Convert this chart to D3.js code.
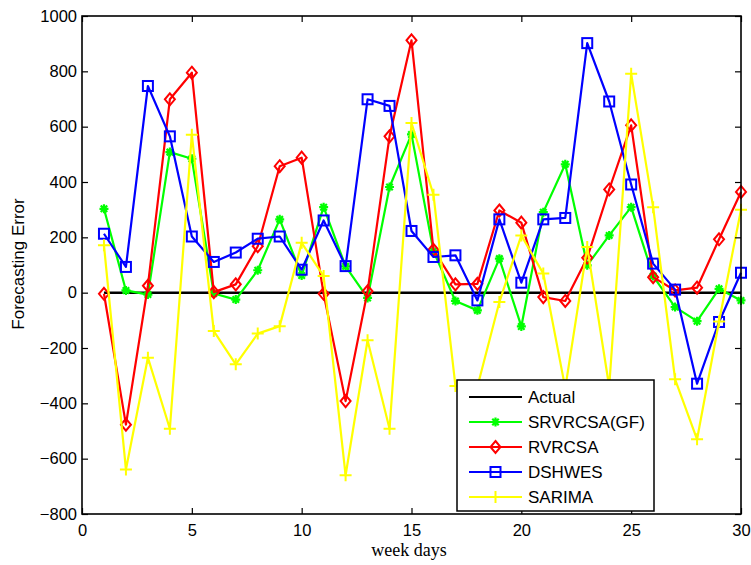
<!DOCTYPE html>
<html>
<head>
<meta charset="utf-8">
<script src="https://cdn.jsdelivr.net/npm/d3@7/dist/d3.min.js"></script>
<style>
  html, body { margin: 0; padding: 0; background: #fff; }
  svg { display: block; }
  text { font-family: "Liberation Sans", Arial, sans-serif; }
</style>
</head>
<body>
<svg id="chart" width="751" height="565"></svg>
<script>
// Week days on the x axis
const days = d3.range(1, 31);

// Forecasting error of each method per day
const actual = days.map(() => 0);
const srvrcsaGF = [303, 8, -7, 508, 484, -3, -25, 81, 265, 62, 309, 95, -19, 382, 572,
                   150, -30, -64, 123, -122, 291, 464, 99, 207, 309, 60, -52, -103, 14, -28];
const rvrcsa = [-4, -477, 25, 699, 795, 2, 30, 168, 457, 488, -4, -392, 5, 565, 912,
                155, 30, 32, 297, 253, -16, -30, 126, 373, 605, 56, 8, 18, 193, 364];
const dshwes = [213, 93, 747, 565, 203, 111, 145, 195, 203, 83, 261, 96, 699, 675, 223,
                129, 135, -28, 265, 36, 265, 270, 902, 691, 391, 105, 11, -329, -106, 72];
const sarima = [171, -639, -235, -492, 571, -139, -259, -148, -121, 180, 60, -660, -172, -492, 613,
                354, -337, -340, -34, 207, 69, -345, 165, -340, 791, 309, -313, -530, -104, 300];

// Axis ticks
const xTicks = [0, 5, 10, 15, 20, 25, 30];
const yTicks = [-800, -600, -400, -200, 0, 200, 400, 600, 800, 1000];

const seriesNames = ["Actual", "SRVRCSA(GF)", "RVRCSA", "DSHWES", "SARIMA"];
const seriesValues = [actual, srvrcsaGF, rvrcsa, dshwes, sarima];
const seriesColors = ["#000000", "#00ff00", "#ff0000", "#0000ff", "#ffff00"];
const seriesMarkers = ["none", "asterisk", "diamond", "square", "plus"];

const svg = d3.select("#chart");
const plotLeft = 82, plotRight = 741, plotTop = 16, plotBottom = 514;

const x = d3.scaleLinear().domain([0, 30]).range([plotLeft, plotRight]);
const y = d3.scaleLinear().domain([-800, 1000]).range([plotBottom, plotTop]);

// Marker drawing
function drawMarker(g, type, color) {
  if (type === "asterisk") {
    const r = 4.5, d = r * 0.72;
    g.append("path")
      .attr("d", `M${-r},0H${r}M0,${-r}V${r}M${-d},${-d}L${d},${d}M${-d},${d}L${d},${-d}`)
      .attr("stroke", color).attr("stroke-width", 2.2).attr("fill", "none");
  } else if (type === "diamond") {
    g.append("path")
      .attr("d", "M0,-6L5,0L0,6L-5,0Z")
      .attr("stroke", color).attr("stroke-width", 2).attr("fill", "none");
  } else if (type === "square") {
    g.append("rect")
      .attr("x", -5).attr("y", -5).attr("width", 10).attr("height", 10)
      .attr("stroke", color).attr("stroke-width", 2).attr("fill", "none");
  } else if (type === "plus") {
    g.append("path")
      .attr("d", "M-6,0H6M0,-6V6")
      .attr("stroke", color).attr("stroke-width", 2).attr("fill", "none");
  }
}

// Series lines and markers
const line = d3.line().x((d, i) => x(days[i])).y(d => y(d));
seriesValues.forEach((vals, si) => {
  const g = svg.append("g");
  g.append("path")
    .datum(vals)
    .attr("d", line)
    .attr("fill", "none")
    .attr("stroke", seriesColors[si])
    .attr("stroke-width", si === 0 ? 2.5 : 2.2)
    .attr("stroke-linejoin", "round");
  if (seriesMarkers[si] !== "none") {
    vals.forEach((v, i) => {
      const mg = g.append("g").attr("transform", `translate(${x(days[i])},${y(v)})`);
      drawMarker(mg, seriesMarkers[si], seriesColors[si]);
    });
  }
});

// Axes with inward ticks on all sides
const fontSize = "16.5px";
const fmt = d3.format("d");
const gx = svg.append("g").attr("transform", `translate(0,${plotBottom})`)
  .call(d3.axisBottom(x).tickValues(xTicks).tickFormat(fmt)
    .tickSizeInner(-6).tickSizeOuter(0).tickPadding(10));
const gy = svg.append("g").attr("transform", `translate(${plotLeft},0)`)
  .call(d3.axisLeft(y).tickValues(yTicks).tickFormat(fmt)
    .tickSizeInner(-6).tickSizeOuter(0).tickPadding(5));
const gt = svg.append("g").attr("transform", `translate(0,${plotTop})`)
  .call(d3.axisTop(x).tickValues(xTicks).tickSizeInner(-6).tickSizeOuter(0).tickFormat(""));
const gr = svg.append("g").attr("transform", `translate(${plotRight},0)`)
  .call(d3.axisRight(y).tickValues(yTicks).tickSizeInner(-6).tickSizeOuter(0).tickFormat(""));

[gx, gy, gt, gr].forEach(g => {
  g.select(".domain").remove();
  g.selectAll(".tick line").attr("stroke", "#000").attr("stroke-width", 1.2);
  g.selectAll(".tick text")
    .attr("fill", "#000")
    .style("font-family", "'Liberation Sans', Arial, sans-serif")
    .style("font-size", fontSize);
});

// Plot frame
svg.append("rect")
  .attr("x", plotLeft).attr("y", plotTop)
  .attr("width", plotRight - plotLeft).attr("height", plotBottom - plotTop)
  .attr("fill", "none").attr("stroke", "#000").attr("stroke-width", 1.6);

// Axis titles
svg.append("text")
  .attr("transform", `translate(24,264) rotate(-90)`)
  .attr("text-anchor", "middle")
  .style("font-size", "17px")
  .text("Forecasting Error");

svg.append("text")
  .attr("x", 409).attr("y", 556)
  .attr("text-anchor", "middle")
  .style("font-family", "'Liberation Serif', 'Times New Roman', serif")
  .style("font-size", "18px")
  .text("week days");

// Legend
const legend = svg.append("g");
legend.append("rect")
  .attr("x", 457).attr("y", 380).attr("width", 197).attr("height", 131)
  .attr("fill", "#fff").attr("stroke", "#000").attr("stroke-width", 1.5);
seriesNames.forEach((name, si) => {
  const cy = 397 + si * 25;
  const row = legend.append("g");
  row.append("line")
    .attr("x1", 469).attr("x2", 522).attr("y1", cy).attr("y2", cy)
    .attr("stroke", seriesColors[si]).attr("stroke-width", 2.2);
  if (seriesMarkers[si] !== "none") {
    const mg = row.append("g").attr("transform", `translate(495.5,${cy})`);
    drawMarker(mg, seriesMarkers[si], seriesColors[si]);
  }
  row.append("text")
    .attr("x", 528).attr("y", cy).attr("dy", "0.36em")
    .style("font-size", "17px")
    .text(name);
});
</script>
</body>
</html>
